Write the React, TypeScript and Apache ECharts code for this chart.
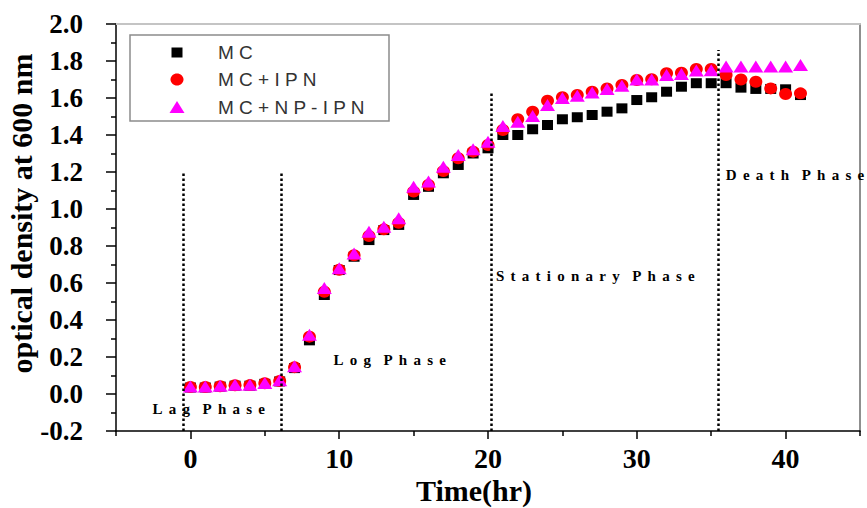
import React, { useEffect, useRef } from "react";
import * as echarts from "echarts";

// Sampling times (hr)
const hours: number[] = Array.from({ length: 42 }, (_, i) => i);

// Optical density at 600 nm for each culture
const mc: number[] = [
  0.035, 0.035, 0.04, 0.045, 0.045, 0.055, 0.068, 0.14, 0.29, 0.535,
  0.67, 0.742, 0.832, 0.886, 0.914, 1.076, 1.12, 1.193, 1.238, 1.3,
  1.328, 1.4, 1.4, 1.431, 1.454, 1.485, 1.496, 1.508, 1.526, 1.544,
  1.589, 1.604, 1.634, 1.661, 1.68, 1.68, 1.68, 1.656, 1.649, 1.649,
  1.647, 1.616,
];
const mcIpn: number[] = [
  0.038, 0.038, 0.042, 0.047, 0.048, 0.058, 0.07, 0.145, 0.31, 0.553,
  0.672, 0.75, 0.854, 0.89, 0.925, 1.094, 1.13, 1.205, 1.274, 1.31,
  1.346, 1.427, 1.485, 1.526, 1.585, 1.604, 1.616, 1.634, 1.652, 1.67,
  1.697, 1.701, 1.734, 1.737, 1.757, 1.757, 1.724, 1.7, 1.688, 1.652,
  1.622, 1.625,
];
const mcNpIpn: number[] = [
  0.04, 0.04, 0.045, 0.05, 0.05, 0.06, 0.075, 0.15, 0.32, 0.573,
  0.68, 0.76, 0.877, 0.904, 0.95, 1.12, 1.148, 1.229, 1.292, 1.323,
  1.364, 1.449, 1.472, 1.503, 1.562, 1.6, 1.612, 1.63, 1.648, 1.666,
  1.7, 1.7, 1.724, 1.73, 1.748, 1.75, 1.77, 1.77, 1.77, 1.77,
  1.77, 1.778,
];

const seriesNames = ["MC", "MC+IPN", "MC+NP-IPN"];
const seriesColors = ["#000000", "#ff0000", "#ff00ff"];

// Axis ticks
const xMajorTicks = [0, 10, 20, 30, 40];
const xMinorTicks = [-5, 5, 15, 25, 35, 45];

// Phase boundaries: x position (hr) and the OD where each dotted line stops
const phaseLineX = [-0.5, 6.1, 20.2, 35.5];
const phaseLineTop = [1.2, 1.2, 1.63, 1.86];

// Phase captions anchored at their left edge (hr, OD)
const phaseNames = ["Lag Phase", "Log Phase", "Stationary Phase", "Death Phase"];
const phaseNameX = [-2.58, 9.58, 20.5, 35.95];
const phaseNameY = [-0.081, 0.184, 0.638, 1.184];

// letter-spaced caption text
const GAP = "\u00a0\u2006";
const spaced = (s: string) =>
  s
    .split(" ")
    .map((w) => w.split("").join(GAP))
    .join(GAP + GAP);

const serif = "'Liberation Serif', 'Times New Roman', serif";
const sans = "'Liberation Sans', Arial, sans-serif";

export default function App() {
  const ref = useRef<HTMLDivElement>(null);

  useEffect(() => {
    if (!ref.current) return;
    const chart = echarts.init(ref.current, null, { renderer: "svg" });

    const pts = (vals: number[]) => hours.map((h, i) => [h, vals[i]]);

    const legendRows = [52.5, 79.5, 107];
    const legendX = 177;

    chart.setOption({
      animation: false,
      backgroundColor: "#ffffff",
      grid: {
        left: 116,
        right: 7,
        top: 24,
        bottom: 77,
        containLabel: false,
        outerBoundsMode: "none",
      },
      xAxis: [
        {
          type: "value",
          min: -5,
          max: 45,
          position: "bottom",
          axisLine: { show: true, onZero: false, lineStyle: { color: "#000", width: 1.5 } },
          axisTick: {
            show: true,
            inside: false,
            length: 8,
            customValues: xMajorTicks,
            lineStyle: { color: "#000", width: 1.5 },
          },
          axisLabel: {
            customValues: xMajorTicks,
            margin: 13,
            fontFamily: serif,
            fontWeight: "bold",
            fontSize: 28,
            color: "#000",
          },
          splitLine: { show: false },
          name: "Time(hr)",
          nameLocation: "middle",
          nameGap: 44,
          nameMoveOverlap: false,
          nameTextStyle: {
            fontFamily: serif,
            fontWeight: "bold",
            fontSize: 30,
            color: "#000",
            padding: [0, 28, 0, 0],
          },
        },
        {
          type: "value",
          min: -5,
          max: 45,
          position: "bottom",
          axisLine: { show: false, onZero: false },
          axisTick: {
            show: true,
            inside: false,
            length: 5,
            customValues: xMinorTicks,
            lineStyle: { color: "#000", width: 1.5 },
          },
          axisLabel: { show: false },
          splitLine: { show: false },
        },
        {
          type: "value",
          min: -5,
          max: 45,
          position: "top",
          axisLine: { show: true, onZero: false, lineStyle: { color: "#c4c4c4", width: 2 } },
          axisTick: { show: false },
          axisLabel: { show: false },
          splitLine: { show: false },
        },
      ],
      yAxis: [
        {
          type: "value",
          min: -0.2,
          max: 2.0,
          interval: 0.2,
          position: "left",
          axisLine: { show: true, onZero: false, lineStyle: { color: "#000", width: 1.5 } },
          axisTick: { show: true, inside: false, length: 10, lineStyle: { color: "#000", width: 1.5 } },
          minorTick: { show: true, splitNumber: 2, length: 5, lineStyle: { color: "#000", width: 1.5 } },
          splitLine: { show: false },
          axisLabel: {
            margin: 33,
            fontFamily: serif,
            fontWeight: "bold",
            fontSize: 27,
            color: "#000",
            formatter: (v: number) => (Math.abs(v) < 1e-9 ? "0.0" : v.toFixed(1)),
          },
          name: "optical density at 600 nm",
          nameLocation: "middle",
          nameGap: 80,
          nameMoveOverlap: false,
          nameTextStyle: {
            fontFamily: serif,
            fontWeight: "bold",
            fontSize: 30,
            color: "#000",
            padding: [0, 0, 0, 28],
          },
        },
        {
          type: "value",
          min: -0.2,
          max: 2.0,
          interval: 0.2,
          position: "right",
          axisLine: { show: true, onZero: false, lineStyle: { color: "#8f8f8f", width: 2 } },
          axisTick: { show: false },
          axisLabel: { show: false },
          splitLine: { show: false },
        },
      ],
      series: [
        {
          name: seriesNames[0],
          type: "scatter",
          symbol: "rect",
          symbolSize: [11, 10],
          itemStyle: { color: seriesColors[0], opacity: 1 },
          data: pts(mc),
          markLine: {
            silent: true,
            symbol: ["none", "none"],
            label: { show: false },
            lineStyle: { color: "#000", width: 2.5, type: [2.5, 2.5] },
            data: phaseLineX.map((x, i) => [
              { coord: [x, -0.2] },
              { coord: [x, phaseLineTop[i]] },
            ]),
          },
          markPoint: {
            silent: true,
            symbol: "circle",
            symbolSize: 1,
            itemStyle: { color: "rgba(0,0,0,0)" },
            label: {
              show: true,
              position: "right",
              distance: 0,
              formatter: "{b}",
              fontFamily: serif,
              fontWeight: "bold",
              fontSize: 15,
              color: "#000",
            },
            data: phaseNames.map((n, i) => ({
              name: spaced(n),
              coord: [phaseNameX[i], phaseNameY[i]],
            })),
          },
        },
        {
          name: seriesNames[1],
          type: "scatter",
          symbol: "circle",
          symbolSize: [13, 12],
          itemStyle: { color: seriesColors[1], opacity: 1 },
          data: pts(mcIpn),
        },
        {
          name: seriesNames[2],
          type: "scatter",
          symbol: "triangle",
          symbolSize: [15, 12],
          itemStyle: { color: seriesColors[2], opacity: 1 },
          data: pts(mcNpIpn),
        },
      ],
      graphic: [
        {
          type: "group",
          z: 100,
          children: [
            {
              type: "rect",
              shape: { x: 130, y: 35, width: 259, height: 86 },
              style: { fill: "#ffffff", stroke: "#8c8c8c", lineWidth: 1.5 },
            },
            {
              type: "rect",
              shape: { x: legendX - 5.5, y: legendRows[0] - 5, width: 11, height: 10 },
              style: { fill: seriesColors[0] },
            },
            {
              type: "ellipse",
              shape: { cx: legendX, cy: legendRows[1], rx: 6.5, ry: 6 },
              style: { fill: seriesColors[1] },
            },
            {
              type: "polygon",
              shape: {
                points: [
                  [legendX - 7.5, legendRows[2] + 6],
                  [legendX + 7.5, legendRows[2] + 6],
                  [legendX, legendRows[2] - 6],
                ],
              },
              style: { fill: seriesColors[2] },
            },
            ...seriesNames.map((n, i) => ({
              type: "text",
              x: 218,
              y: legendRows[i],
              style: {
                text: n.split("").join(" "),
                fill: "#333333",
                font: `19px ${sans}`,
                verticalAlign: "middle",
                align: "left",
              },
            })),
          ],
        },
      ],
    });

    return () => chart.dispose();
  }, []);

  return (
    <div
      ref={ref}
      style={{ position: "fixed", left: 0, top: 0, width: 867, height: 508, background: "#fff" }}
    />
  );
}
